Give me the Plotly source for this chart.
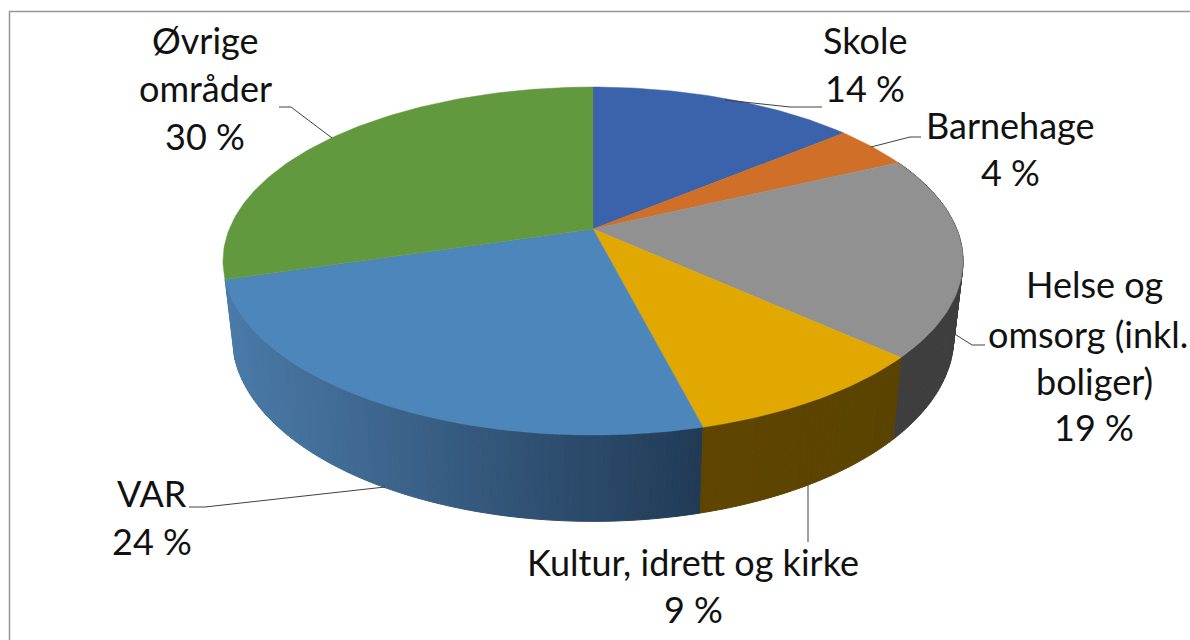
import numpy as np
import plotly.graph_objects as go

# Data
categories = ["Skole", "Barnehage", "Helse og omsorg (inkl. boliger)",
              "Kultur, idrett og kirke", "VAR", "Øvrige områder"]
values = [14, 4, 18.7, 9.3, 24.4, 29.6]
label_lines = [["Skole", "14 %"], ["Barnehage", "4 %"],
               ["Helse og", "omsorg (inkl.", "boliger)", "19 %"],
               ["Kultur, idrett og kirke", "9 %"], ["VAR", "24 %"],
               ["Øvrige", "områder", "30 %"]]

# Styling
top_colors = ["#3a63ab", "#d06f27", "#919191", "#e0a800", "#4d86bb", "#62993f"]
wall_left = [None, None, "#3a3a3a", "#5f4500", "#4a7aa8", None]   # colour at the left end of a wall
wall_right = [None, None, "#3e3e3e", "#5a4300", "#213a55", None]  # colour at the right end of a wall
label_x = [865, 1010, [1094, 1088, 1094, 1094], 693, 152, 205]
label_y = [[40, 88], [125, 172], [284, 334, 381, 427], [562, 609], [493, 541], [40, 88, 136]]
leaders = [([725, 790, 822], [100, 107, 107]),
           ([871, 910, 921], [147, 137, 137]),
           ([950, 972, 985], [331, 345, 345]),
           ([808, 808], [485, 542]),
           ([189, 205, 385], [507, 507, 487]),
           ([279, 291, 332], [107, 107, 138])]

# Projection of the tilted disc (perspective view)
CX, CY = 593.0, 229.0
PERSP, KX, KY = 0.184, 363.7, 168.1
WALL_SX, WALL_SY, WALL_DROP = 0.975, 1.06, 74.0


def project(theta, lower=False):
    u, v = np.sin(theta), np.cos(theta)
    w = 1 + PERSP * v
    sx, sy, d = (WALL_SX, WALL_SY, WALL_DROP) if lower else (1.0, 1.0, 0.0)
    return CX + sx * KX * u / w, CY - sy * KY * v / w + d


def hex2rgb(h):
    return np.array([int(h[i:i + 2], 16) for i in (1, 3, 5)], dtype=float)


def mix(a, b, t):
    c = hex2rgb(a) * (1 - t) + hex2rgb(b) * t
    return "rgb(%d,%d,%d)" % tuple(c.round())


edges = np.radians(np.cumsum([0] + values) * 3.6)
fig = go.Figure()

# Side walls, split in strips for the gradient
for i in (2, 4, 3):
    a0, a1 = edges[i], edges[i + 1]
    n = max(int((a1 - a0) / np.radians(1.0)), 4)
    th = np.linspace(a0, a1, n + 1)
    for k in range(n):
        t = np.linspace(th[k], th[k + 1], 3)
        xt, yt = project(t)
        xb, yb = project(t[::-1], lower=True)
        x0, x1 = project(th[0])[0], project(th[-1])[0]
        lo, hi = min(x0, x1), max(x0, x1)
        frac = (xt.mean() - lo) / (hi - lo)
        col = mix(wall_left[i], wall_right[i], float(np.clip(frac, 0, 1)))
        fig.add_trace(go.Scatter(x=np.r_[xt, xb, xt[0]], y=np.r_[yt, yb, yt[0]],
                                 mode="lines", fill="toself", fillcolor=col,
                                 line=dict(color=col, width=1), hoverinfo="skip",
                                 showlegend=False))

# Top face
for i, name in enumerate(categories):
    t = np.linspace(edges[i], edges[i + 1], max(int(values[i] * 3.6), 8) + 1)
    xt, yt = project(t)
    fig.add_trace(go.Scatter(x=np.r_[CX, xt, CX], y=np.r_[CY, yt, CY],
                             mode="lines", fill="toself", fillcolor=top_colors[i],
                             line=dict(color=top_colors[i], width=0.5), name=name,
                             hoverinfo="name", showlegend=False))

# Leader lines
for lx, ly in leaders:
    fig.add_trace(go.Scatter(x=lx, y=ly, mode="lines", hoverinfo="skip", showlegend=False,
                             line=dict(color="#404040", width=1)))

# Frame
fig.add_trace(go.Scatter(x=[9.5, 9.5, 1190], y=[640, 11.5, 11.5], mode="lines",
                         hoverinfo="skip", showlegend=False,
                         line=dict(color="#969696", width=1.5)))

# Labels
annotations = []
for i, lines in enumerate(label_lines):
    xs = label_x[i] if isinstance(label_x[i], list) else [label_x[i]] * len(lines)
    for text, x, y in zip(lines, xs, label_y[i]):
        annotations.append(dict(x=x, y=y, text=text, showarrow=False, xanchor="center",
                                yanchor="middle", font=dict(family="Lato", size=36, color="#111111")))

fig.update_layout(width=1190, height=640, margin=dict(l=0, r=0, t=0, b=0),
                  paper_bgcolor="white", plot_bgcolor="white", annotations=annotations,
                  xaxis=dict(range=[0, 1190], visible=False, fixedrange=True),
                  yaxis=dict(range=[640, 0], visible=False, fixedrange=True))
fig.write_html("out.html", config=dict(displayModeBar=False),
               post_script="document.body.style.margin='0';")
